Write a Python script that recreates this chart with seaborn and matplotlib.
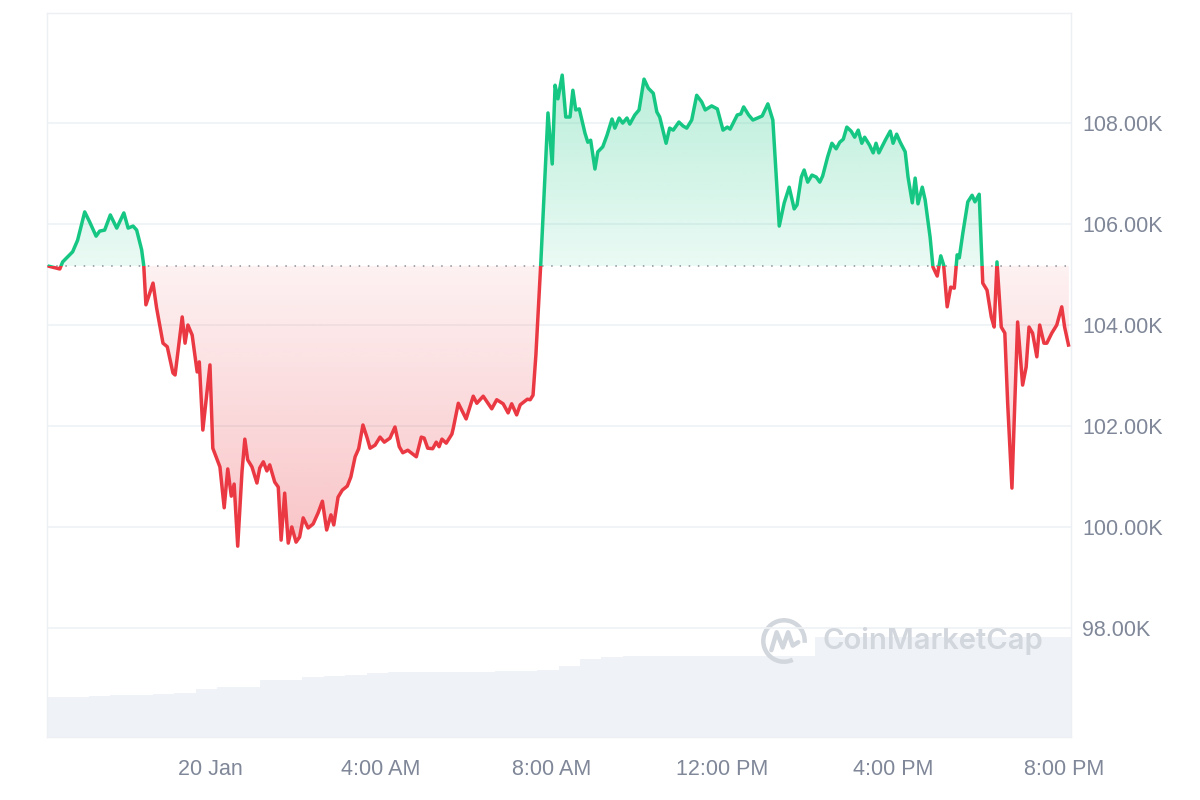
import numpy as np
import matplotlib
matplotlib.use("Agg")
import matplotlib.pyplot as plt
import seaborn as sns
from matplotlib.patches import Rectangle, Arc
from matplotlib.path import Path

# ---------------- data ----------------
# minutes after 19 Jan 20:00
minutes = [12, 29, 33, 47, 54, 64, 71, 80, 85, 92, 100, 109, 119, 125, 132, 137, 144, 147, 150, 160,
           165, 174, 180, 188, 191, 201, 205, 209, 215, 222, 225, 230, 240,
           244, 254, 260, 265, 270, 274, 279, 285, 289, 293, 299, 306, 310, 315, 320, 324, 331, 336, 340, 345,
           350, 355, 361,
           366, 371, 378, 385, 392, 398, 404, 410, 414, 420, 426, 433, 438, 444, 449, 455, 461, 465, 472, 479,
           485, 493, 500, 506, 511, 518, 530, 537, 541, 546, 553, 558, 562, 566, 572, 580, 582, 589, 600, 610,
           615, 624, 636, 643, 652, 659, 664, 671, 676, 686, 690, 694, 698, 705,
           715, 721, 725, 729, 735, 740, 746, 750, 754, 759, 767, 771, 775, 781, 785, 792, 798, 805, 809, 815,
           820, 826, 830, 837, 843, 850, 856, 863, 868, 872, 881, 886, 891, 899, 905, 910, 917, 924, 931, 936,
           945, 953, 961, 967, 971, 981, 986, 990, 997, 1003, 1016, 1024, 1031,
           1040, 1047, 1054, 1061, 1065, 1071, 1075, 1080, 1086, 1092, 1097, 1101, 1108, 1114, 1120, 1125, 1130,
           1135, 1141, 1146, 1151, 1156, 1160, 1167, 1172, 1176, 1180, 1189, 1196, 1200, 1205, 1210, 1217, 1221,
           1227, 1231, 1235, 1241, 1245,
           1252, 1256, 1262, 1267, 1271, 1276, 1281, 1286, 1290, 1293, 1298, 1305, 1311, 1315, 1321, 1325, 1326,
           1332, 1338, 1342, 1346, 1352, 1357, 1361, 1367, 1371, 1375, 1382, 1387, 1391, 1396, 1402, 1406, 1412,
           1416, 1423, 1430, 1437, 1441, 1447]

price_k = [105.17, 105.11, 105.25, 105.45, 105.68, 106.24, 106.04, 105.76, 105.86, 105.88, 106.18, 105.92,
           106.22, 105.92, 105.96, 105.88, 105.49, 105.17, 104.40, 104.83, 104.34, 103.64, 103.57, 103.05,
           103.01, 104.16, 103.64, 104.00, 103.80, 103.07, 103.27, 101.92, 103.21,
           101.56, 101.19, 100.38, 101.15, 100.61, 100.85, 99.62, 101.09, 101.74, 101.33, 101.19, 100.87,
           101.17, 101.29, 101.11, 101.23, 100.89, 100.79, 99.74, 100.67, 99.68, 100.00, 99.70,
           99.80, 100.18, 99.98, 100.06, 100.28, 100.51, 99.94, 100.24, 100.04, 100.59, 100.73, 100.81, 100.99,
           101.39, 101.55, 102.02, 101.76, 101.56, 101.62, 101.78, 101.68, 101.76, 101.98, 101.59, 101.47,
           101.52, 101.39, 101.78, 101.76, 101.56, 101.55, 101.68, 101.59, 101.74, 101.66, 101.84, 101.96,
           102.45, 102.14, 102.59, 102.45, 102.59, 102.34, 102.52, 102.44, 102.26, 102.44, 102.22, 102.42,
           102.53, 102.52, 102.61, 103.40, 105.25,
           108.20, 107.19, 108.75, 108.48, 108.95, 108.12, 108.12, 108.65, 108.26, 108.28, 107.80, 107.62,
           107.66, 107.09, 107.43, 107.53, 107.76, 108.08, 107.90, 108.10, 108.00, 108.10, 107.98, 108.16,
           108.26, 108.87, 108.69, 108.59, 108.22, 108.12, 107.60, 107.90, 107.86, 108.02, 107.94, 107.90,
           108.06, 108.55, 108.42, 108.26, 108.34, 108.28, 107.86, 107.92, 107.88, 108.16, 108.18, 108.32,
           108.16, 108.06, 108.14, 108.38, 108.06,
           105.96, 106.42, 106.73, 106.30, 106.38, 106.93, 107.07, 106.83, 106.97, 106.93, 106.83, 106.95,
           107.33, 107.60, 107.49, 107.62, 107.68, 107.92, 107.84, 107.72, 107.86, 107.60, 107.72, 107.56,
           107.41, 107.60, 107.41, 107.66, 107.84, 107.60, 107.78, 107.62, 107.43, 106.93, 106.42, 106.91,
           106.40, 106.73, 106.48,
           105.74, 105.15, 104.97, 105.37, 105.19, 104.36, 104.75, 104.73, 105.39, 105.33, 105.82, 106.44,
           106.57, 106.44, 106.59, 105.15, 104.83, 104.69, 104.16, 103.96, 105.25, 103.96, 103.84, 102.45,
           100.77, 102.45, 104.06, 102.81, 103.17, 103.96, 103.84, 103.37, 104.00, 103.64, 103.64, 103.84,
           104.00, 104.36, 103.96, 103.57]

baseline_k = 105.17

# volume bars (start minute of each 30-min bar, volume in B)
vol_start = [10, 40, 70, 100, 130, 160, 190, 220, 250, 280, 310, 340, 370, 400, 430, 460, 490, 520, 550, 580,
             610, 640, 670, 700, 730, 760, 790, 820, 850, 880, 910, 940, 970, 1000, 1030, 1060, 1090, 1120,
             1150, 1180, 1210, 1240, 1270, 1300, 1330, 1360, 1390, 1420]
vol_b = [20, 20, 20.5, 21, 21, 21.5, 22, 24, 25, 25, 28.5, 28.5, 30, 30.5, 31, 32, 32.5, 32.5, 32.5, 32.5,
         32.5, 33, 33, 33.5, 35.5, 39, 40, 40.5, 40.5, 40.5, 40.5, 40.5, 40.5, 40.5, 40.5, 40.5, 50, 50,
         50, 50, 50, 50, 50, 50, 50, 50, 50, 50]

x_tick_minutes = [240, 480, 720, 960, 1200, 1440]
x_tick_labels = ["20 Jan", "4:00 AM", "8:00 AM", "12:00 PM", "4:00 PM", "8:00 PM"]
y_ticks = [98, 100, 102, 104, 106, 108]
y_tick_labels = ["98.00K", "100.00K", "102.00K", "104.00K", "106.00K", "108.00K"]

# ---------------- style ----------------
sns.set_theme(style="white")
plt.rcParams['font.family'] = ['Liberation Sans', 'DejaVu Sans']

GREEN = "#16c784"
RED = "#ea3943"
GRID = "#eff2f5"
TXT = "#7f8798"

W, H = 1200, 800
fig = plt.figure(figsize=(12, 8), dpi=100, facecolor="white")
ax = fig.add_axes([47 / W, 63 / H, 1024 / W, 724 / H])
ax2 = ax.twinx()

X0, X1 = 11, 1450
Y0, Y1 = 95.84, 110.18

# volume (behind)
ax2.bar(vol_start, vol_b, width=30, align="edge", color="#eff2f6", linewidth=0)
ax2.set_ylim(0, 362)
ax2.set_yticks([])
for s in ax2.spines.values():
    s.set_visible(False)
ax.set_zorder(ax2.get_zorder() + 1)
ax.patch.set_visible(False)

x = np.asarray(minutes, dtype=float)
y = np.asarray(price_k, dtype=float)

# gradient fills clipped to area between line and baseline
def gradient_fill(where, color, ylo, yhi, a_lo, a_hi):
    coll = ax.fill_between(x, y, baseline_k, where=where, interpolate=True,
                           facecolor="none", edgecolor="none")
    paths = coll.get_paths()
    if not paths:
        return
    comp = Path.make_compound_path(*paths)
    rgb = matplotlib.colors.to_rgb(color)
    n = 256
    grad = np.zeros((n, 1, 4))
    grad[:, 0, 0:3] = rgb
    grad[:, 0, 3] = np.linspace(a_lo, a_hi, n)
    im = ax.imshow(grad, extent=[X0, X1, ylo, yhi], origin="lower", aspect="auto",
                   interpolation="bilinear", zorder=1)
    im.set_clip_path(comp, ax.transData)

gradient_fill(y >= baseline_k, GREEN, baseline_k, 109.0, 0.09, 0.30)
gradient_fill(y <= baseline_k, RED, 99.6, baseline_k, 0.30, 0.07)

# price line, green above baseline, red below
sns.lineplot(x=x, y=y, ax=ax, color=GREEN, linewidth=2.5, estimator=None, sort=False, zorder=4)
line_up = ax.lines[-1]
line_up.set_solid_capstyle("butt")
line_up.set_clip_path(Rectangle((X0, baseline_k), X1 - X0, Y1 - baseline_k, transform=ax.transData))
sns.lineplot(x=x, y=y, ax=ax, color=RED, linewidth=2.5, estimator=None, sort=False, zorder=4)
line_dn = ax.lines[-1]
line_dn.set_solid_capstyle("butt")
line_dn.set_clip_path(Rectangle((X0, Y0), X1 - X0, baseline_k - Y0, transform=ax.transData))

# dotted baseline
ax.axhline(baseline_k, color="#8a8f99", linewidth=1.1, linestyle=(0, (1, 5)), zorder=3)

# axes
ax.set_xlim(X0, X1)
ax.set_ylim(Y0, Y1)
ax.set_xticks(x_tick_minutes)
ax.set_xticklabels(x_tick_labels)
ax.set_yticks(y_ticks)
ax.set_yticklabels(y_tick_labels)
ax.yaxis.tick_right()
ax.yaxis.set_label_position("right")
ax.tick_params(axis="y", length=0, pad=8, labelsize=15.5, labelcolor=TXT)
ax.tick_params(axis="x", length=0, pad=16, labelsize=15.5, labelcolor=TXT)
ax.set_xlabel("")
ax.set_ylabel("")
ax.yaxis.grid(True, color=GRID, linewidth=1.2, zorder=0)
ax.xaxis.grid(False)
ax.set_axisbelow(True)
for s in ax.spines.values():
    s.set_color("#eceff3")
    s.set_linewidth(1)

# watermark
wm = "#d2d6dd"
fig.text(822 / W, 1 - 641 / H, "CoinMarketCap", fontsize=21, fontweight="semibold",
         color=wm, ha="left", va="center", family=["Inter", "DejaVu Sans"], zorder=10)
lax = fig.add_axes([761 / W, 1 - 664 / H, 46 / W, 46 / H])
lax.set_xlim(-1, 1)
lax.set_ylim(-1, 1)
lax.axis("off")
lax.add_patch(Arc((0, 0), 1.8, 1.8, theta1=-5, theta2=295, color=wm, linewidth=3.2))
lax.plot([-0.55, -0.32, -0.05, 0.18, 0.38, 0.62], [-0.4, 0.38, -0.28, 0.38, -0.2, -0.05],
         color=wm, linewidth=3.2, solid_capstyle="round", solid_joinstyle="round")

fig.savefig("out.png", dpi=100, facecolor="white")
